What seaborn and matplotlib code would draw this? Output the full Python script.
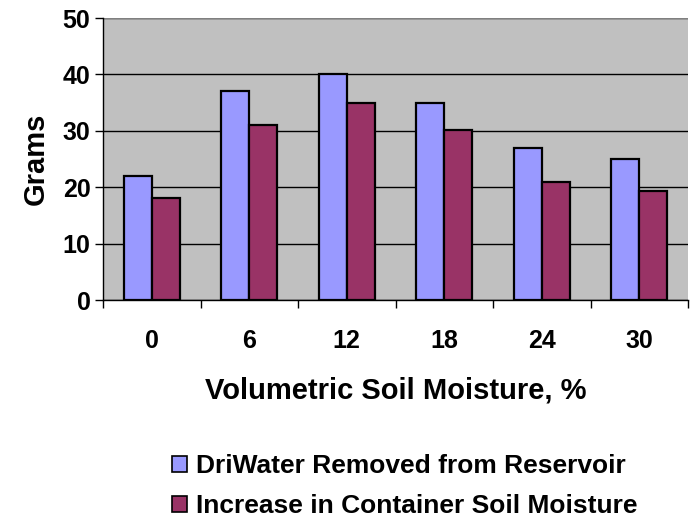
import matplotlib
matplotlib.use("Agg")
import matplotlib.pyplot as plt
import seaborn as sns
import pandas as pd
import numpy as np
from matplotlib.patches import Patch

categories = ["0", "6", "12", "18", "24", "30"]
driwater_removed = [22, 37, 40, 35, 27, 25]
soil_increase = [18, 31, 35, 30.2, 21, 19.3]
series_names = ["DriWater Removed from Reservoir", "Increase in Container Soil Moisture"]
colors = ["#9999FF", "#993366"]
y_ticks = [0, 10, 20, 30, 40, 50]

sns.set_theme(style="white")
plt.rcParams["font.family"] = ["Liberation Sans", "DejaVu Sans"]
plt.rcParams["font.weight"] = "bold"
plt.rcParams["text.color"] = "black"
plt.rcParams["axes.labelcolor"] = "black"
plt.rcParams["xtick.color"] = "black"
plt.rcParams["ytick.color"] = "black"

df = pd.DataFrame({
    "cat": categories * 2,
    "val": driwater_removed + soil_increase,
    "series": [series_names[0]] * len(categories) + [series_names[1]] * len(categories),
})

fig = plt.figure(figsize=(6.9, 5.21), dpi=100)
ax = fig.add_axes([103 / 690, 1 - 300 / 521, 585 / 690, 282 / 521])
ax.set_facecolor("#C0C0C0")

sns.barplot(data=df, x="cat", y="val", hue="series", palette=colors, order=categories,
            hue_order=series_names, width=0.57, gap=0, edgecolor="black", linewidth=1.6,
            saturation=1, ax=ax, legend=False, zorder=3)

ax.set_ylim(0, 50)
ax.set_xlim(-0.5, len(categories) - 0.5)
ax.set_yticks(y_ticks)
ax.yaxis.grid(True, color="black", linewidth=1.0, zorder=0)
ax.set_axisbelow(True)

for s in ["top", "right"]:
    ax.spines[s].set_visible(False)
ax.spines["left"].set_color("black")
ax.spines["left"].set_linewidth(1.0)
ax.spines["bottom"].set_color("black")
ax.spines["bottom"].set_linewidth(1.0)
ax.axhline(50, color="#808080", linewidth=1.5, zorder=1)

ax.tick_params(axis="x", which="major", length=0, pad=21, labelsize=18)
ax.set_xticks(np.arange(-0.5, len(categories) - 0.4, 1), minor=True)
ax.tick_params(axis="x", which="minor", length=6, width=1, color="black", direction="out", bottom=True)
ax.tick_params(axis="y", length=6, width=1, color="black", direction="out", left=True, labelsize=18, pad=3)
for lab in ax.get_xticklabels() + ax.get_yticklabels():
    lab.set_fontweight("bold")

ax.set_xlabel("Volumetric Soil Moisture, %", fontsize=21, fontweight="bold", labelpad=17)
ax.set_ylabel("Grams", fontsize=21, fontweight="bold", labelpad=9)

handles = [Patch(facecolor=c, edgecolor="black", linewidth=1.2) for c in colors]
fig.legend(handles, series_names, loc="center", bbox_to_anchor=(405 / 690, 1 - 486 / 521),
           frameon=False, prop={"weight": "bold", "size": 19}, handlelength=0.55, handleheight=0.55,
           handletextpad=0.35, labelspacing=0.6)

fig.savefig("out.png", dpi=100)
